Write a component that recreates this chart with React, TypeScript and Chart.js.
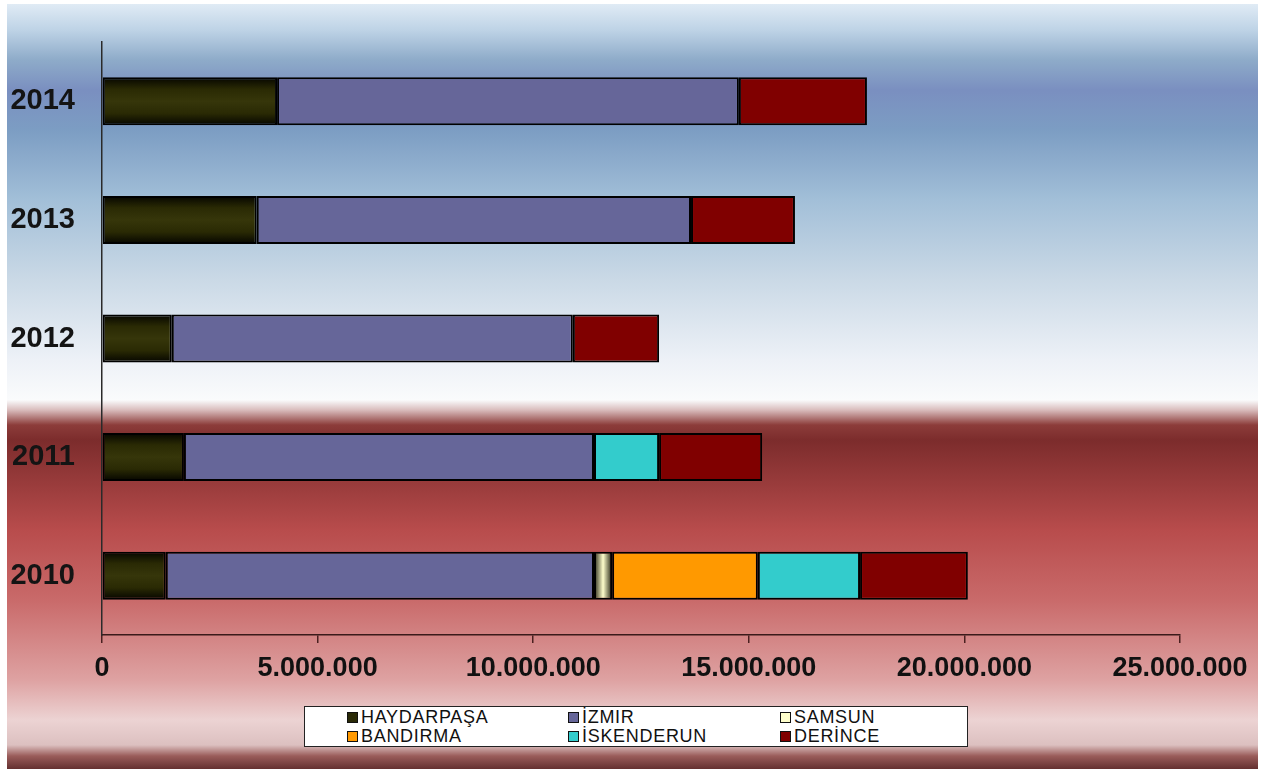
import React, { useEffect, useRef } from "react";
import { Chart, registerables } from "chart.js";

Chart.register(...registerables);

const years = ["2014", "2013", "2012", "2011", "2010"];
const haydarpasa = [4060000, 3590000, 1620000, 1900000, 1480000];
const izmir = [10710000, 10070000, 9300000, 9510000, 9930000];
const samsun = [null, null, null, null, 420000];
const bandirma = [null, null, null, null, 3380000];
const iskenderun = [null, null, null, 1510000, 2370000];
const derince = [2970000, 2410000, 2000000, 2390000, 2500000];
const xTicks = [0, 5000000, 10000000, 15000000, 20000000, 25000000];

const seriesNames = ["HAYDARPAŞA", "İZMIR", "SAMSUN", "BANDIRMA", "İSKENDERUN", "DERİNCE"];
const seriesColors = ["#2a2a06", "#666699", "#ffffcc", "#ff9900", "#33cccc", "#800000"];

const fmt = (v: number) => {
  const s = Math.round(v).toString();
  return s.replace(/\B(?=(\d{3})+(?!\d))/g, ".");
};

const legendOrder = [
  [0, 1, 2],
  [3, 4, 5],
];
const legendCols = [42, 263, 475];

export default function App() {
  const ref = useRef<HTMLCanvasElement | null>(null);

  useEffect(() => {
    if (!ref.current) return;
    const hayBg = (ctx: any) => {
      const chart = ctx.chart;
      const y = chart.scales && chart.scales.y;
      if (!y || ctx.dataIndex == null || !isFinite(y.getPixelForValue(ctx.dataIndex))) return seriesColors[0];
      const c = y.getPixelForValue(ctx.dataIndex);
      const g = chart.ctx.createLinearGradient(0, c - 24, 0, c + 24);
      g.addColorStop(0, "#050500");
      g.addColorStop(0.25, "#2a2a04");
      g.addColorStop(0.5, "#36360a");
      g.addColorStop(0.75, "#2a2a04");
      g.addColorStop(1, "#050500");
      return g;
    };
    const samBg = (ctx: any) => {
      const chart = ctx.chart;
      const x = chart.scales && chart.scales.x;
      const i = ctx.dataIndex;
      if (!x || i == null || samsun[i] == null) return seriesColors[2];
      const s = haydarpasa[i] + izmir[i];
      const x0 = x.getPixelForValue(s);
      const x1 = x.getPixelForValue(s + (samsun[i] as number));
      if (!isFinite(x0) || !isFinite(x1)) return seriesColors[2];
      const g = chart.ctx.createLinearGradient(x0, 0, x1, 0);
      g.addColorStop(0, "#222211");
      g.addColorStop(0.5, "#ffffcc");
      g.addColorStop(1, "#222211");
      return g;
    };
    const data = [haydarpasa, izmir, samsun, bandirma, iskenderun, derince];
    const chart = new Chart(ref.current, {
      type: "bar",
      data: {
        labels: years,
        datasets: data.map((d, k) => ({
          label: seriesNames[k],
          data: d as any,
          backgroundColor: k === 0 ? hayBg : k === 2 ? samBg : seriesColors[k],
          borderColor: "#000000",
          borderWidth: 2,
          borderSkipped: false,
          barPercentage: 0.405,
          categoryPercentage: 1,
        })),
      },
      options: {
        indexAxis: "y",
        animation: false,
        responsive: false,
        maintainAspectRatio: false,
        layout: { padding: { left: 0, top: 38, right: 78, bottom: 0 } },
        plugins: {
          legend: { display: false },
          tooltip: { enabled: false },
        },
        scales: {
          x: {
            stacked: true,
            min: 0,
            max: 25000000,
            afterBuildTicks: (scale: any) => {
              scale.ticks = xTicks.map((v) => ({ value: v }));
            },
            afterFit: (scale: any) => {
              scale.height = 134;
            },
            grid: {
              display: true,
              drawOnChartArea: false,
              drawTicks: true,
              tickLength: 8,
              color: "#4a2020",
              lineWidth: 1.5,
            },
            border: { display: true, color: "#3a1a1a", width: 1.5 },
            ticks: {
              padding: 9,
              color: "#111111",
              maxRotation: 0,
              autoSkip: false,
              font: { family: "Liberation Sans, Arial, sans-serif", size: 27, weight: "bold" },
              callback: (v: any) => fmt(Number(v)),
            },
          },
          y: {
            stacked: true,
            afterFit: (scale: any) => {
              scale.width = 95;
              scale.paddingTop = 0;
              scale.paddingBottom = 0;
            },
            grid: { display: false, drawTicks: false },
            border: { display: true, color: "#2a2a2a", width: 1.5 },
            ticks: {
              padding: 27,
              color: "#141414",
              font: { family: "Liberation Sans, Arial, sans-serif", size: 29, weight: "bold" },
            },
          },
        },
      },
    });
    return () => chart.destroy();
  }, []);

  const bg =
    "linear-gradient(to bottom, #e0ebf5 0px, #bed3e6 26px, #8eabc9 56px, #7a8fc0 86px, #7c9dc3 126px, #a2bfd8 196px, #cad9e6 276px, #edf1f7 356px, #fafbfc 396px, #d9bcbc 406px, #8c3c3a 421px, #7c2c2c 436px, #b84c4c 526px, #c96a6a 596px, #dea2a2 676px, #ecd3d3 716px, #dcc0c0 741px, #9a5c5a 752px, #643030 765px)";

  return (
    <div
      style={{
        position: "absolute",
        left: 7,
        top: 4,
        width: 1251,
        height: 765,
        background: bg,
        fontFamily: "Liberation Sans, Arial, sans-serif",
      }}
    >
      <canvas ref={ref} width={1251} height={765} style={{ position: "absolute", left: 0, top: 0, width: 1251, height: 765 }} />
      <div
        style={{
          position: "absolute",
          left: 297,
          top: 702,
          width: 662,
          height: 39,
          background: "#ffffff",
          border: "1.5px solid #222",
        }}
      >
        {legendOrder.map((row, r) =>
          row.map((k, c) => (
            <div
              key={k}
              style={{
                position: "absolute",
                left: legendCols[c],
                top: r === 0 ? 1 : 20,
                height: 19,
                display: "flex",
                alignItems: "center",
                whiteSpace: "nowrap",
              }}
            >
              <span
                style={{
                  display: "inline-block",
                  width: 9,
                  height: 9,
                  background: seriesColors[k],
                  border: "1px solid #111",
                  marginRight: 3,
                }}
              />
              <span style={{ fontSize: 18, color: "#111", letterSpacing: 0.7 }}>{seriesNames[k]}</span>
            </div>
          ))
        )}
      </div>
    </div>
  );
}
